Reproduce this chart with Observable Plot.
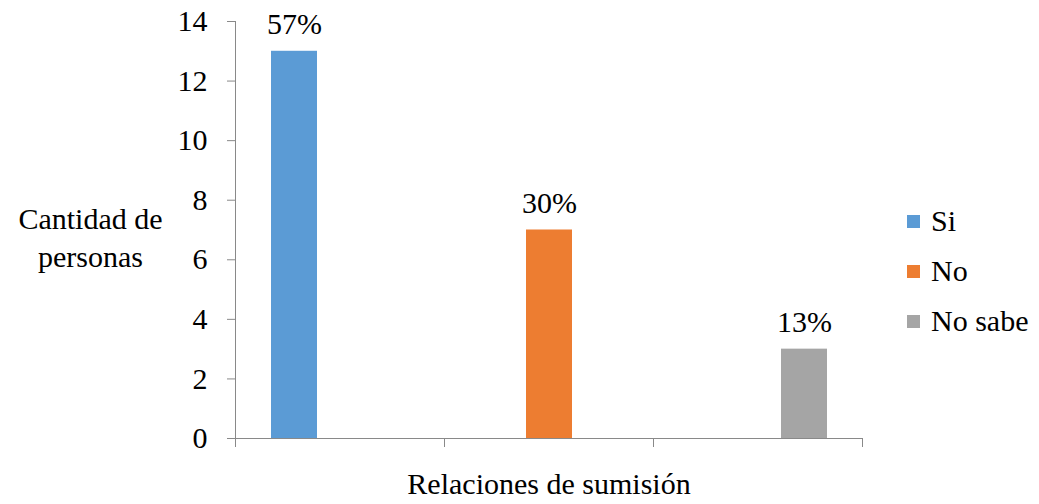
<!DOCTYPE html>
<html>
<head>
<meta charset="utf-8">
<script src="https://cdn.jsdelivr.net/npm/d3@7"></script>
<script src="https://cdn.jsdelivr.net/npm/@observablehq/plot@0.6"></script>
<style>
  html, body { margin: 0; padding: 0; background: #fff; }
  #wrap { position: relative; width: 1039px; height: 504px; font-family: "Liberation Serif"; }
  #legend { position: absolute; left: 907px; top: 196px; font-size: 30px; color: #000; font-family: "Liberation Serif"; }
  .item { display: flex; align-items: center; height: 50px; }
  .sw { width: 13px; height: 13px; margin-right: 11px; }
</style>
</head>
<body>
<div id="wrap"></div>
<script>
const categorias = ["Si", "No", "No sabe"];
const valores = [13, 7, 3];
const porcentajes = ["57%", "30%", "13%"];
const colores = ["#5B9BD5", "#ED7D31", "#A5A5A5"];
const yTicks = [0, 2, 4, 6, 8, 10, 12, 14];
const yLabel = "Cantidad de\npersonas";
const xLabel = "Relaciones de sumisión";

const datos = categorias.map((c, i) => ({serie: c, valor: valores[i], pct: porcentajes[i]}));
const gris = "#898989";
const font = "Liberation Serif";

const chart = Plot.plot({
  width: 1039,
  height: 504,
  marginLeft: 235,
  marginRight: 177,
  marginTop: 21,
  marginBottom: 66,
  style: {background: "#fff", color: "#000", fontFamily: font},
  fx: {domain: categorias, padding: 0, axis: null},
  x: {domain: categorias, paddingInner: 0, paddingOuter: 0.745, axis: null},
  y: {domain: [0, 14], axis: null},
  color: {domain: categorias, range: colores},
  marks: [
    Plot.barY(datos, {fx: "serie", x: "serie", y: "valor", fill: "serie"}),
    Plot.text(datos, {fx: "serie", x: "serie", y: "valor", text: "pct", dy: -17, lineAnchor: "bottom", fontSize: 30, fontFamily: font, fill: "#000"}),
    Plot.ruleY([0], {stroke: gris}),
    Plot.frame({anchor: "left", facetAnchor: "left", stroke: gris}),
    Plot.frame({anchor: "left", insetTop: 417, insetBottom: -8, stroke: gris}),
    Plot.frame({anchor: "right", facetAnchor: "right", insetTop: 417, insetBottom: -8, stroke: gris}),
    Plot.axisY({ticks: yTicks, tickSize: 8, tickPadding: 20, fontSize: 30, fontFamily: font, stroke: gris, fill: "#000", label: null}),
    Plot.text([yLabel], {frameAnchor: "left", facetAnchor: "left", dx: -145, dy: 6, textAnchor: "middle", lineHeight: 1.27, fontSize: 30, fontFamily: font, fill: "#000"}),
    Plot.text([{serie: "No", t: xLabel}], {fx: "serie", text: "t", frameAnchor: "bottom", dy: 55, fontSize: 30, fontFamily: font, fill: "#000"})
  ]
});

const wrap = document.getElementById("wrap");
wrap.appendChild(chart);

const legend = document.createElement("div");
legend.id = "legend";
categorias.forEach((c, i) => {
  const it = document.createElement("div");
  it.className = "item";
  const sw = document.createElement("span");
  sw.className = "sw";
  sw.style.background = colores[i];
  const tx = document.createElement("span");
  tx.textContent = c;
  it.appendChild(sw);
  it.appendChild(tx);
  legend.appendChild(it);
});
wrap.appendChild(legend);
</script>
</body>
</html>
